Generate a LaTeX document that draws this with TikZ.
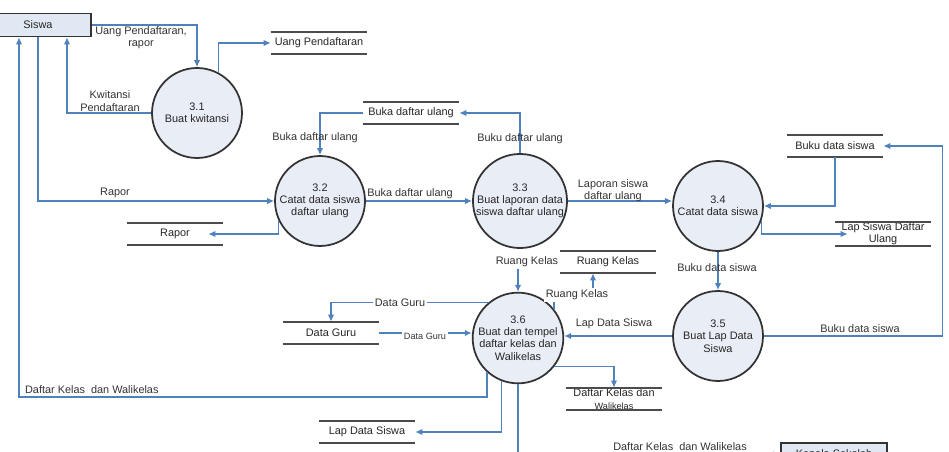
\documentclass[tikz,border=0pt]{standalone}
\usepackage{fontspec}
\setmainfont{Liberation Sans}
\usepackage{tikz}
\usetikzlibrary{arrows.meta}
\definecolor{flowblue}{RGB}{79,129,189}
\definecolor{procfill}{RGB}{233,237,246}
\definecolor{extfill}{RGB}{224,232,244}
\newcommand{\dfdfont}{\fontsize{6.2}{7}\selectfont}
\newcommand{\dfdsmall}{\fontsize{5.2}{6}\selectfont}

\begin{document}
\begin{tikzpicture}[x=0.02cm,y=-0.02cm,
 proc/.style={circle,draw=black!80,line width=1pt,fill=procfill,minimum size=1.8cm,inner sep=0pt,align=center,font=\dfdfont,text=black!85},
 ext/.style={rectangle,draw=black!80,line width=1pt,fill=extfill,minimum width=2.12cm,minimum height=0.46cm,font=\dfdfont,text=black!85},
 store/.style={minimum width=1.92cm,minimum height=0.44cm,inner sep=0pt,align=center,font=\dfdfont,text=black!85},
 storeline/.style={draw=black!70,line width=1.1pt},
 flow/.style={draw=flowblue,line width=0.85pt,-{Latex[length=1.4mm,width=1.3mm]}},
 lbl/.style={font=\dfdfont,text=black!80,align=center,inner sep=1pt}]
\useasboundingbox (0,0) rectangle (949,452);
\clip (0,0) rectangle (949,452);
% processes
\node[proc] (p31) at (197,113) {3.1\\Buat kwitansi};
\node[proc] (p32) at (320,201) {3.2\\Catat data siswa\\daftar ulang};
\node[proc] (p33) at (520,201) {3.3\\Buat laporan data\\siswa daftar ulang};
\node[proc] (p34) at (718,206) {3.4\\Catat data siswa};
\node[proc] (p35) at (718,336) {3.5\\Buat Lap Data\\Siswa};
\node[proc] (p36) at (518,338) {3.6\\Buat dan tempel\\daftar kelas dan\\Walikelas};
% entities
\node[ext] (siswa) at (38,25) {Siswa};
\node[ext] (kepala) at (834,454.5) {Kepala Sekolah};
% data stores
\node[store] (uang) at (319,43) {Uang Pendaftaran};
\node[store] (bdu) at (411,113) {Buka daftar ulang};
\node[store] (rapor) at (175,234) {Rapor};
\node[store] (bds) at (835,146) {Buku data siswa};
\node[store] (lsdu) at (883,234) {Lap Siswa Daftar\\Ulang};
\node[store] (ruang) at (608,262) {Ruang Kelas};
\node[store] (dguru) at (331,333) {Data Guru};
\node[store] (dkw) at (614,399) {Daftar Kelas dan\\{\dfdsmall Walikelas}};
\node[store] (ldsw) at (367,432) {Lap Data Siswa};
\foreach \s in {uang,bdu,rapor,bds,lsdu,ruang,dguru,dkw,ldsw} {
 \draw[storeline] (\s.north west) -- (\s.north east);
 \draw[storeline] (\s.south west) -- (\s.south east);
}
% flows
\coordinate (bl) at (19,397);
\draw[flow] (siswa.east) -| (p31.north);
\draw[flow] (p31.62) |- (uang.west);
\draw[flow] (p31.west) -| ([xshift=0.58cm]siswa.south);
\draw[flow] (siswa.south) |- (p32.west);
\draw[flow] (p36.228) |- (bl) -- (bl |- siswa.south);
\draw[flow] (p32.205) |- ([xshift=-0.3cm]rapor.east);
\draw[flow] (bdu.west) -| (p32.north);
\draw[flow] (p33.north) |- (bdu.east);
\draw[flow] (p32.east) -- (p33.west);
\draw[flow] (p33.east) -- (p33.east -| p34.west);
\draw[flow] (bds.south) |- (p34.east);
\draw[flow] (p34.-18) |- ([xshift=0.26cm]lsdu.west);
\draw[flow] (p34.south) -- (p35.north);
\draw[flow] (p35.east) -| ([xshift=1.18cm]bds.east) -- (bds.east);
\draw[flow] (p35.west) -- (p35.west -| p36.east);
\draw[flow] (ruang.west) -| (p36.north);
\draw[flow] (p36.39) -- ++(0,-17) -| ([xshift=-0.3cm]ruang.south);
\draw[flow] (p36.130) -| (dguru.north);
\draw[flow] (dguru.east) -- (dguru.east -| p36.west);
\draw[flow] (p36.-38) -| (dkw.north);
\draw[flow] (p36.-111) |- (ldsw.east);
\draw[flow] (p36.south) |- (kepala.west);
% flow labels
\node[lbl] (l1) at (141,38) {Uang Pendaftaran,\\rapor};
\node[lbl] (l2) at (110,101) {Kwitansi\\Pendaftaran};
\node[lbl] (l3) at (115,193) {Rapor};
\node[lbl] (l4) at (315,138) {Buka daftar ulang};
\node[lbl] (l5) at (520,139) {Buku daftar ulang};
\node[lbl] (l6) at (410,194) {Buka daftar ulang};
\node[lbl] (l7) at (613,191) {Laporan siswa\\daftar ulang};
\node[lbl] (l8) at (717,268) {Buku data siswa};
\node[lbl] (l9) at (860,329) {Buku data siswa};
\node[lbl] (l10) at (614,324) {Lap Data Siswa};
\node[lbl,fill=white] (l11) at (527,262) {Ruang Kelas};
\node[lbl,fill=white] (l12) at (577,295) {Ruang Kelas};
\node[lbl,fill=white] (l13) at (400,303) {Data Guru};
\node[lbl,fill=white,font=\dfdsmall] (l14) at (425,336) {Data Guru};
\node[lbl,anchor=west] (l15) at (23,390) {Daftar Kelas\ \ dan Walikelas};
\node[lbl] (l16) at (680,447) {Daftar Kelas\ \ dan Walikelas};
\end{tikzpicture}
\end{document}
